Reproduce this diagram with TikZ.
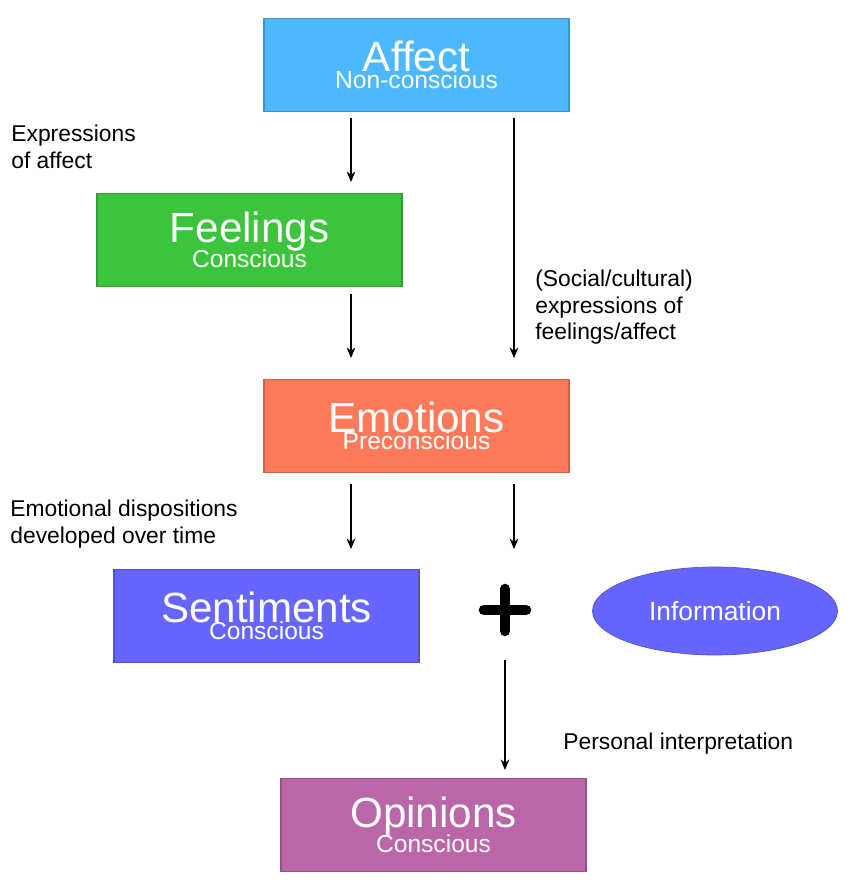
\documentclass[tikz,border=0pt]{standalone}
\usepackage{fontspec}
\setmainfont{Liberation Sans}
\usetikzlibrary{arrows.meta, calc, shapes.geometric}

\definecolor{affectc}{HTML}{4DB8FF}
\definecolor{feelc}{HTML}{3CC43C}
\definecolor{emoc}{HTML}{FF7A5A}
\definecolor{sentc}{HTML}{6666FF}
\definecolor{opinc}{HTML}{BA66A8}

\tikzset{
    box/.style={draw=#1!80!black, fill=#1, minimum width=6.1cm, minimum height=1.86cm, align=center, text=white, line width=0.8pt},
    lbl/.style={align=left, anchor=north west, font=\fontsize{13}{15}\selectfont, inner sep=0pt},
    arr/.style={-{Stealth[length=6pt, width=5pt]}, line width=0.6pt}
}
\newcommand{\boxtext}[2]{{\fontsize{24}{26}\selectfont #1}\\[-2pt]{\fontsize{14}{16}\selectfont #2}}

\begin{document}
\begin{tikzpicture}
    \useasboundingbox (0,0) rectangle (17,17.6);
    % boxes
    \node [box=affectc] (affect) at (8.33,16.3) {\boxtext{Affect}{Non-conscious}};
    \node [box=feelc] (feel) at (4.99,12.8) {\boxtext{Feelings}{Conscious}};
    \node [box=emoc] (emo) at (8.33,9.08) {\boxtext{Emotions}{Preconscious}};
    \node [box=sentc] (sent) at (5.33,5.28) {\boxtext{Sentiments}{Conscious}};
    \node [box=opinc] (opin) at (8.67,1.1) {\boxtext{Opinions}{Conscious}};
    \node [ellipse, draw=sentc!80!black, fill=sentc, minimum width=4.9cm, minimum height=1.76cm, text=white, font=\fontsize{15}{17}\selectfont] (info) at (14.3,5.38) {Information};
    % plus sign
    \node (plus) at (10.1,5.4) {};
    \draw [line width=6pt, line cap=round] ($(plus)+(-0.42,0)$) -- ($(plus)+(0.42,0)$);
    \draw [line width=6pt, line cap=round] ($(plus)+(0,-0.42)$) -- ($(plus)+(0,0.42)$);
    % arrows
    \coordinate (a1) at (7.02,15.24); \coordinate (a2) at (7.02,13.96);
    \coordinate (b1) at (10.28,15.24); \coordinate (b2) at (10.28,10.44);
    \coordinate (c1) at (7.02,11.72); \coordinate (c2) at (7.02,10.44);
    \coordinate (d1) at (7.02,7.92); \coordinate (d2) at (7.02,6.62);
    \coordinate (e1) at (10.28,7.92); \coordinate (e2) at (10.28,6.62);
    \coordinate (f1) at (10.1,4.4); \coordinate (f2) at (10.1,2.2);
    \foreach \s/\t in {a1/a2, b1/b2, c1/c2, d1/d2, e1/e2, f1/f2}
        \draw [arr] (\s) -- (\t);
    % labels
    \node [lbl] at (0.22,15.1) {Expressions\\of affect};
    \node [lbl] at (10.7,12.2) {(Social/cultural)\\expressions of\\feelings/affect};
    \node [lbl] at (0.2,7.6) {Emotional dispositions\\developed over time};
    \node [lbl] at (11.26,2.95) {Personal interpretation};
\end{tikzpicture}
\end{document}
